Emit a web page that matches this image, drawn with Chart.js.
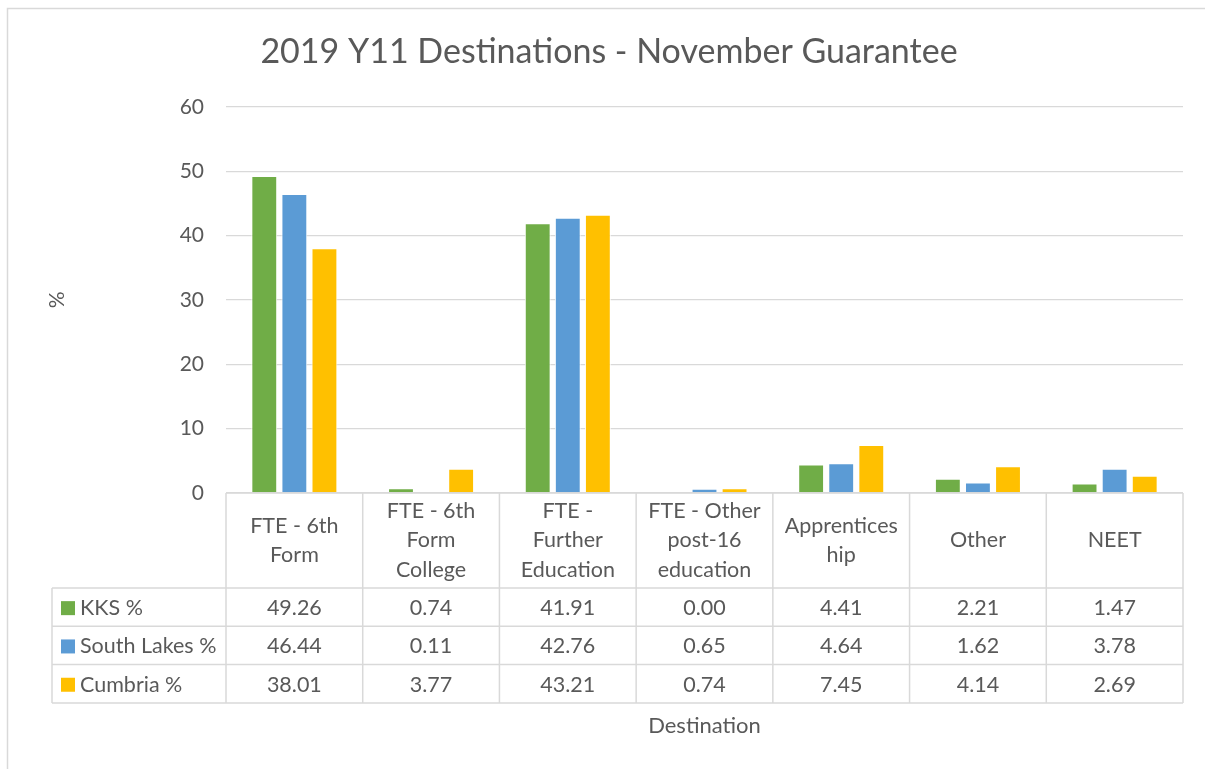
<!DOCTYPE html>
<html>
<head>
<meta charset="utf-8">
<script src="https://cdn.jsdelivr.net/npm/chart.js@4/dist/chart.umd.min.js"></script>
<style>
  html, body { margin: 0; padding: 0; background: #fff; }
  canvas { display: block; }
</style>
</head>
<body>
<canvas id="destChart" width="1205" height="769"></canvas>
<script>
const categories = [
    ['FTE - 6th', 'Form'],
    ['FTE - 6th', 'Form', 'College'],
    ['FTE -', 'Further', 'Education'],
    ['FTE - Other', 'post-16', 'education'],
    ['Apprentices', 'hip'],
    ['Other'],
    ['NEET']
];
const seriesNames = ['KKS %', 'South Lakes %', 'Cumbria %'];
const kks = [49.26, 0.74, 41.91, 0.00, 4.41, 2.21, 1.47];
const southLakes = [46.44, 0.11, 42.76, 0.65, 4.64, 1.62, 3.78];
const cumbria = [38.01, 3.77, 43.21, 0.74, 7.45, 4.14, 2.69];
const colors = ['#70AD47', '#5B9BD5', '#FFC000'];

const FONT = 'Lato, "Open Sans", sans-serif';
const TEXT = '#595959';
const LINE = '#D9D9D9';

// draws the outer frame and the data table under the plot
const tablePlugin = {
    id: 'dataTable',
    beforeDraw(chart) {
        const ctx = chart.ctx;
        ctx.save();
        ctx.fillStyle = '#fff';
        ctx.fillRect(0, 0, chart.width, chart.height);
        ctx.strokeStyle = LINE;
        ctx.lineWidth = 1.5;
        ctx.strokeRect(7.5, 8.5, chart.width + 20, chart.height + 20);
        ctx.restore();
    },
    afterDraw(chart) {
        const ctx = chart.ctx;
        const x = chart.scales.x;
        const area = chart.chartArea;
        const colW = (area.right - area.left) / categories.length;
        const top = area.bottom;
        const headerBottom = 588;
        const rowH = 38.3;
        const tableBottom = headerBottom + rowH * 3;
        const leftEdge = 52;

        ctx.save();
        ctx.strokeStyle = LINE;
        ctx.lineWidth = 1.5;
        ctx.beginPath();
        ctx.moveTo(area.left, top); ctx.lineTo(area.right, top);
        for (let r = 0; r <= 3; r++) {
            const y = headerBottom + r * rowH;
            ctx.moveTo(leftEdge, y); ctx.lineTo(area.right, y);
        }
        ctx.moveTo(leftEdge, headerBottom); ctx.lineTo(leftEdge, tableBottom);
        for (let i = 0; i <= categories.length; i++) {
            const vx = area.left + i * colW;
            ctx.moveTo(vx, top); ctx.lineTo(vx, tableBottom);
        }
        ctx.stroke();

        ctx.fillStyle = TEXT;
        ctx.font = '21.5px ' + FONT;
        ctx.textAlign = 'center';
        ctx.textBaseline = 'middle';
        const headerMid = (top + headerBottom) / 2;
        const lh = 29.5;
        categories.forEach((lines, i) => {
            const cx = x.getPixelForValue(i);
            const y0 = headerMid - (lines.length - 1) * lh / 2;
            lines.forEach((t, k) => ctx.fillText(t, cx, y0 + k * lh));
        });

        const rows = [kks, southLakes, cumbria];
        rows.forEach((vals, r) => {
            const cy = headerBottom + r * rowH + rowH / 2 + 1;
            ctx.fillStyle = colors[r];
            ctx.fillRect(61, cy - 7, 14, 14);
            ctx.fillStyle = TEXT;
            ctx.textAlign = 'left';
            ctx.fillText(seriesNames[r], 80, cy);
            ctx.textAlign = 'center';
            vals.forEach((v, i) => ctx.fillText(v.toFixed(2), x.getPixelForValue(i), cy));
        });
        ctx.restore();
    }
};

const ctx = document.getElementById('destChart').getContext('2d');
window.destChart = new Chart(ctx, {
    type: 'bar',
    data: {
        labels: categories.map(c => c.join(' ')),
        datasets: [kks, southLakes, cumbria].map((d, i) => ({
            label: seriesNames[i],
            data: d,
            backgroundColor: colors[i],
            borderColor: '#fff',
            borderWidth: 1,
            categoryPercentage: 0.66,
            barPercentage: 0.86
        }))
    },
    options: {
        responsive: false,
        animation: false,
        // left padding keeps the title centred like the original
        layout: { padding: { top: 0, right: 22, bottom: 0, left: 35 } },
        plugins: {
            legend: { display: false },
            tooltip: { enabled: false },
            title: {
                display: true,
                text: '2019 Y11 Destinations - November Guarantee',
                color: TEXT,
                font: { family: FONT, size: 34, weight: 'normal' },
                padding: { top: 32, bottom: 34 }
            }
        },
        scales: {
            x: {
                grid: { display: false },
                border: { display: false },
                ticks: { display: false },
                title: {
                    display: true,
                    text: 'Destination',
                    color: TEXT,
                    font: { family: FONT, size: 22 },
                    padding: { top: 212, bottom: 29.6 }
                }
            },
            y: {
                min: 0,
                max: 60,
                ticks: {
                    stepSize: 10,
                    color: TEXT,
                    font: { family: FONT, size: 21 },
                    padding: 22
                },
                grid: { color: LINE, lineWidth: 1.3, drawTicks: false },
                border: { display: false },
                title: {
                    display: true,
                    text: '%',
                    color: TEXT,
                    font: { family: FONT, size: 21 },
                    padding: { top: 10, bottom: 0 }
                },
                afterFit(scale) { scale.width = 191; }
            }
        }
    },
    plugins: [tablePlugin]
});
</script>
</body>
</html>
